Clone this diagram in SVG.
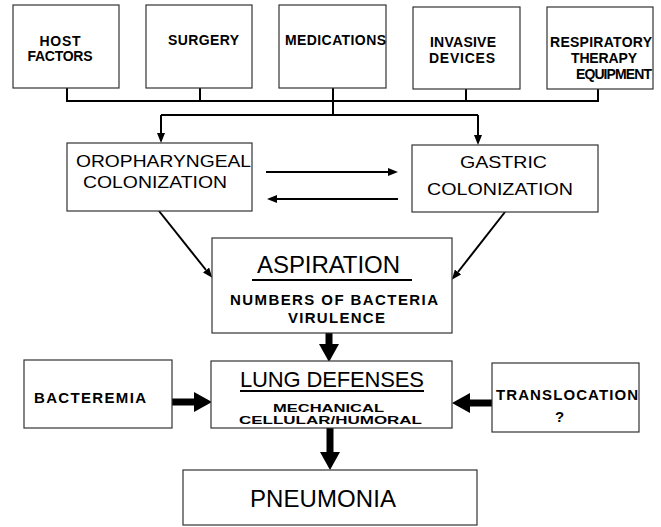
<svg xmlns="http://www.w3.org/2000/svg" width="661" height="527" viewBox="0 0 661 527">
<defs>
<marker id="ah" markerWidth="10" markerHeight="8" refX="0" refY="4" orient="auto" markerUnits="userSpaceOnUse"><path d="M0,0 L10,4 L0,8 z" fill="#000"/></marker>
<marker id="big" markerWidth="18" markerHeight="20" refX="0" refY="10" orient="auto" markerUnits="userSpaceOnUse"><path d="M0,0 L18,10 L0,20 z" fill="#000"/></marker>
</defs>
<style>
.box{fill:#fff;stroke:#333;stroke-width:1.2}
text{font-family:"Liberation Sans",Arial,sans-serif;fill:#000}
.b{font-weight:bold;font-size:14px}
.s{font-weight:bold;font-size:15px}
.x{font-weight:bold;font-size:11.5px}
.m{font-size:17px}
.l{font-size:24px}
.c{stroke:#000;fill:none;stroke-width:2}
.th{stroke:#000;fill:none;stroke-width:7}
.u{stroke:#000;stroke-width:2}
</style>
<rect width="661" height="527" fill="#fff"/>
<g id="connectors">
<path class="c" d="M67,88 V101 H598 V88 M200,88 V101 M333,88 V115 M466,88 V101"/>
<path class="c" d="M161,115 H478"/>
<line class="c" x1="161" y1="115" x2="161" y2="133" marker-end="url(#ah)"/>
<line class="c" x1="478" y1="115" x2="478" y2="135" marker-end="url(#ah)"/>
<line class="c" x1="266" y1="172" x2="388" y2="172" marker-end="url(#ah)"/>
<line class="c" x1="398" y1="199" x2="277" y2="199" marker-end="url(#ah)"/>
<line class="c" x1="159" y1="211" x2="206" y2="270" marker-end="url(#ah)"/>
<line class="c" x1="505" y1="212" x2="458" y2="272" marker-end="url(#ah)"/>
<line class="th" x1="329" y1="333" x2="329" y2="344" marker-end="url(#big)"/>
<line class="th" x1="330" y1="428" x2="330" y2="452" marker-end="url(#big)"/>
<line class="th" x1="172" y1="402" x2="194" y2="402" marker-end="url(#big)"/>
<line class="th" x1="492" y1="403" x2="470" y2="403" marker-end="url(#big)"/>
</g>
<g id="host-factors">
<rect class="box" x="13" y="5" width="106" height="83"/>
<text class="b" x="60" y="46" text-anchor="middle" textLength="41">HOST</text>
<text class="b" x="60" y="61" text-anchor="middle" textLength="65">FACTORS</text>
</g>
<g id="surgery">
<rect class="box" x="146" y="5" width="106" height="83"/>
<text class="b" x="168" y="45" textLength="71">SURGERY</text>
</g>
<g id="medications">
<rect class="box" x="279" y="5" width="107" height="83"/>
<text class="b" x="285" y="45" textLength="101">MEDICATIONS</text>
</g>
<g id="invasive-devices">
<rect class="box" x="413" y="7" width="107" height="82"/>
<text class="b" x="430" y="47" textLength="66">INVASIVE</text>
<text class="b" x="429" y="63" textLength="66">DEVICES</text>
</g>
<g id="respiratory-therapy">
<rect class="box" x="547" y="7" width="106" height="82"/>
<text class="b" x="550" y="47" textLength="102">RESPIRATORY</text>
<text class="b" x="571" y="63" textLength="66">THERAPY</text>
<text class="b" x="576" y="79" textLength="76">EQUIPMENT</text>
</g>
<g id="oropharyngeal">
<rect class="box" x="67" y="143" width="185" height="68"/>
<text class="m" x="76" y="167" textLength="175" lengthAdjust="spacingAndGlyphs">OROPHARYNGEAL</text>
<text class="m" x="83" y="188" textLength="144" lengthAdjust="spacingAndGlyphs">COLONIZATION</text>
</g>
<g id="gastric">
<rect class="box" x="412" y="145" width="186" height="67"/>
<text class="m" x="460" y="168" textLength="87" lengthAdjust="spacingAndGlyphs">GASTRIC</text>
<text class="m" x="427" y="195" textLength="146" lengthAdjust="spacingAndGlyphs">COLONIZATION</text>
</g>
<g id="aspiration">
<rect class="box" x="212" y="238" width="240" height="95"/>
<text class="l" x="257" y="273" textLength="143">ASPIRATION</text>
<line class="u" x1="252" y1="280" x2="412" y2="280"/>
<text class="s" x="230" y="305" textLength="208">NUMBERS OF BACTERIA</text>
<text class="s" x="288" y="323" textLength="97">VIRULENCE</text>
</g>
<g id="lung-defenses">
<rect class="box" x="211" y="361" width="241" height="67"/>
<text x="240" y="387" font-size="22" textLength="184">LUNG DEFENSES</text>
<line class="u" x1="240" y1="391" x2="424" y2="391"/>
<text class="x" x="273" y="412" textLength="111" lengthAdjust="spacingAndGlyphs">MECHANICAL</text>
<text class="x" x="239" y="424" textLength="183" lengthAdjust="spacingAndGlyphs">CELLULAR/HUMORAL</text>
</g>
<g id="bacteremia">
<rect class="box" x="24" y="360" width="148" height="68"/>
<text class="s" x="34" y="403" textLength="112">BACTEREMIA</text>
</g>
<g id="translocation">
<rect class="box" x="492" y="363" width="147" height="69"/>
<text class="s" x="496" y="400" textLength="142">TRANSLOCATION</text>
<text class="s" x="555" y="422">?</text>
</g>
<g id="pneumonia">
<rect class="box" x="183" y="470" width="294" height="55"/>
<text class="l" x="250" y="507" textLength="146">PNEUMONIA</text>
</g>
</svg>
